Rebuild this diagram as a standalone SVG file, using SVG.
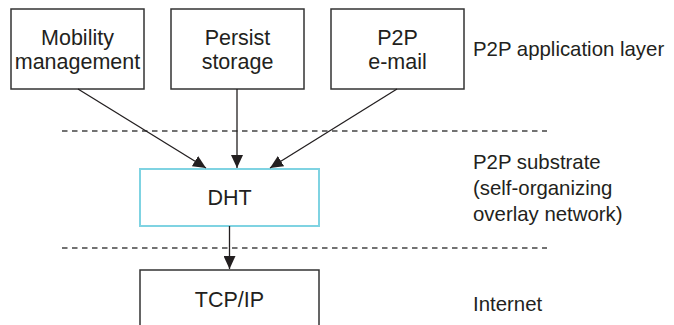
<svg xmlns="http://www.w3.org/2000/svg" width="674" height="325" viewBox="0 0 674 325">
<style>
.box{fill:#fff;stroke:#333;stroke-width:1.5}
.dht{fill:#fff;stroke:#7fd3e2;stroke-width:2}
.t{font-family:"Liberation Sans",Arial,sans-serif;font-size:21.5px;fill:#231f20;text-anchor:middle}
.l{font-family:"Liberation Sans",Arial,sans-serif;font-size:20.4px;fill:#231f20}
.c{stroke:#231f20;stroke-width:1.3;fill:none;marker-end:url(#ah)}
.d{stroke:#444;stroke-width:1.3;stroke-dasharray:5.5,4.5;fill:none}
</style>
<defs>
<marker id="ah" markerUnits="userSpaceOnUse" markerWidth="13" markerHeight="12" refX="13" refY="6" orient="auto">
<path d="M0,0 L13,6 L0,12 z" fill="#231f20"/>
</marker>
</defs>
<rect width="674" height="325" fill="#fff"/>
<g id="layers">
<line class="d" x1="62" y1="131" x2="547" y2="131"/>
<line class="d" x1="62" y1="248" x2="547" y2="248"/>
</g>
<g id="mobility">
<rect class="box" x="11" y="9" width="133" height="80"/>
<text class="t" x="77.5" y="45">Mobility</text>
<text class="t" x="77.5" y="68.5">management</text>
</g>
<g id="persist">
<rect class="box" x="171" y="9" width="133" height="80"/>
<text class="t" x="237.5" y="45">Persist</text>
<text class="t" x="237.5" y="68.5">storage</text>
</g>
<g id="email">
<rect class="box" x="331" y="9" width="133" height="80"/>
<text class="t" x="397.5" y="45">P2P</text>
<text class="t" x="397.5" y="68.5">e-mail</text>
</g>
<g id="dht">
<rect class="dht" x="140" y="169" width="179" height="57"/>
<text class="t" x="229.5" y="204.5">DHT</text>
</g>
<g id="tcpip">
<rect class="box" x="140" y="270" width="179" height="70"/>
<text class="t" x="229.5" y="306.5">TCP/IP</text>
</g>
<g id="labels">
<text class="l" x="473" y="55.5">P2P application layer</text>
<text class="l" x="473" y="168.5">P2P substrate</text>
<text class="l" x="473" y="194.5">(self-organizing</text>
<text class="l" x="473" y="220.5">overlay network)</text>
<text class="l" x="473" y="310.5">Internet</text>
</g>
<g id="connectors">
<line class="c" x1="78" y1="89" x2="206" y2="168"/>
<line class="c" x1="237" y1="89" x2="237" y2="168"/>
<line class="c" x1="397" y1="89" x2="270" y2="168"/>
<line class="c" x1="229.5" y1="226" x2="229.5" y2="269"/>
</g>
</svg>
